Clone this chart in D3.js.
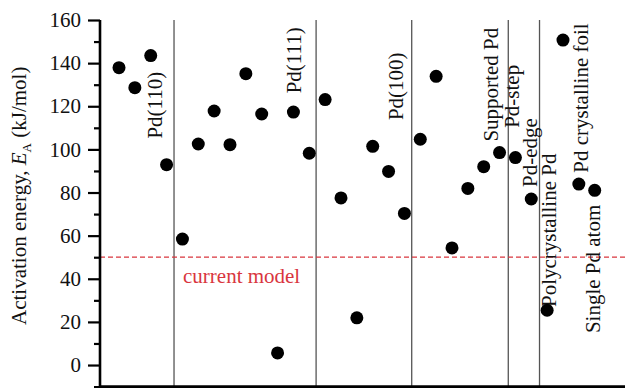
<!DOCTYPE html>
<html>
<head>
<meta charset="utf-8">
<script src="https://cdn.jsdelivr.net/npm/d3@7"></script>
<style>
  html, body { margin: 0; padding: 0; background: #fff; }
  svg { display: block; }
  text { font-family: "Liberation Serif", "Times New Roman", serif; }
</style>
</head>
<body>
<svg id="chart" width="625" height="388"></svg>
<script>
// Reported activation energies (kJ/mol), one per study, in plotting order
const activationEnergy = [
  137.9, 128.6, 143.5, 92.9,
  58.4, 102.5, 117.8, 102.2, 135.1, 116.4, 5.6, 117.3, 98.2,
  123.1, 77.5, 21.9, 101.4, 89.8, 70.3,
  104.7, 133.9, 54.3, 81.9, 92.0, 98.5,
  96.2, 77.0,
  25.4, 150.7, 83.9, 81.0
];

// Boundaries between surface groups (in point-index units)
const groupBounds = [3.47, 12.43, 18.46, 24.55, 26.52];

// Group names
const groupNames = [
  "Pd(110)", "Pd(111)", "Pd(100)", "Supported Pd", "Pd-step",
  "Pd-edge", "Polycrystalline Pd", "Pd crystalline foil", "Single Pd atom"
];
// Where each group name sits: baseline index and starting energy
const groupNameIndex = [2.72, 11.5, 17.9, 23.9, 25.2, 26.36, 27.55, 29.57, 30.33];
const groupNameEnergy = [105, 126, 113.6, 103.6, 110, 82.6, 26.9, 89.2, 14.8];

// Y-axis ticks
const majorTicks = [0, 20, 40, 60, 80, 100, 120, 140, 160];
const minorTicks = [-10, 10, 30, 50, 70, 90, 110, 130, 150];

// Reference level from the current model
const modelEnergy = 50;
const modelLabel = "current model";

const svg = d3.select("#chart");

const x = d3.scaleLinear().domain([0, activationEnergy.length - 1]).range([119, 594.7]);
const y = d3.scaleLinear().domain([-10, 160]).range([386.6, 20]);

const axisX = 100;

// Group separators
svg.append("g").selectAll("line")
  .data(groupBounds)
  .join("line")
  .attr("x1", d => x(d)).attr("x2", d => x(d))
  .attr("y1", y(160)).attr("y2", y(-10))
  .attr("stroke", "#555").attr("stroke-width", 1.3);

// Current-model reference line
svg.append("line")
  .attr("x1", axisX).attr("x2", 625)
  .attr("y1", y(modelEnergy)).attr("y2", y(modelEnergy))
  .attr("stroke", "#d9363e").attr("stroke-width", 1.2)
  .attr("stroke-dasharray", "5,3");

svg.append("text")
  .attr("x", 183).attr("y", y(modelEnergy) + 26)
  .attr("fill", "#d9363e")
  .attr("font-size", 21)
  .text(modelLabel);

// Y axis with labelled major ticks
const yAxis = d3.axisLeft(y).tickValues(majorTicks).tickSize(12).tickPadding(7).tickFormat(d3.format("d"));
const gy = svg.append("g").attr("transform", `translate(${axisX},0)`).call(yAxis);
gy.select(".domain").remove();
gy.selectAll(".tick line").attr("stroke", "#000").attr("stroke-width", 2.2);
gy.selectAll(".tick text").attr("font-size", 21).attr("fill", "#111")
  .attr("font-family", "'Liberation Serif', serif");

// Minor ticks
const yMinor = d3.axisLeft(y).tickValues(minorTicks).tickSize(6).tickFormat("");
const gm = svg.append("g").attr("transform", `translate(${axisX},0)`).call(yMinor);
gm.select(".domain").remove();
gm.selectAll(".tick line").attr("stroke", "#000").attr("stroke-width", 2.2);

// Axis lines
svg.append("line")
  .attr("x1", axisX).attr("x2", axisX)
  .attr("y1", y(160)).attr("y2", y(-10) + 1)
  .attr("stroke", "#000").attr("stroke-width", 2.6);
svg.append("line")
  .attr("x1", axisX - 1).attr("x2", 625)
  .attr("y1", y(-10)).attr("y2", y(-10))
  .attr("stroke", "#000").attr("stroke-width", 2.6);

// Y-axis title
const title = svg.append("text")
  .attr("transform", `translate(26,${325}) rotate(-90)`)
  .attr("font-size", 21)
  .attr("fill", "#111");
title.append("tspan").text("Activation energy, ");
title.append("tspan").attr("font-style", "italic").text("E");
title.append("tspan").attr("font-size", 13).attr("dy", 5).text("A");
title.append("tspan").attr("dy", -5).text(" (kJ/mol)");

// Group names, rotated
svg.append("g").selectAll("text")
  .data(groupNames)
  .join("text")
  .attr("transform", (d, i) => `translate(${x(groupNameIndex[i])},${y(groupNameEnergy[i])}) rotate(-90)`)
  .attr("font-size", 21)
  .attr("fill", "#111")
  .text(d => d);

// Data points
svg.append("g").selectAll("circle")
  .data(activationEnergy)
  .join("circle")
  .attr("cx", (d, i) => x(i))
  .attr("cy", d => y(d))
  .attr("r", 6.5)
  .attr("fill", "#000");
</script>
</body>
</html>
